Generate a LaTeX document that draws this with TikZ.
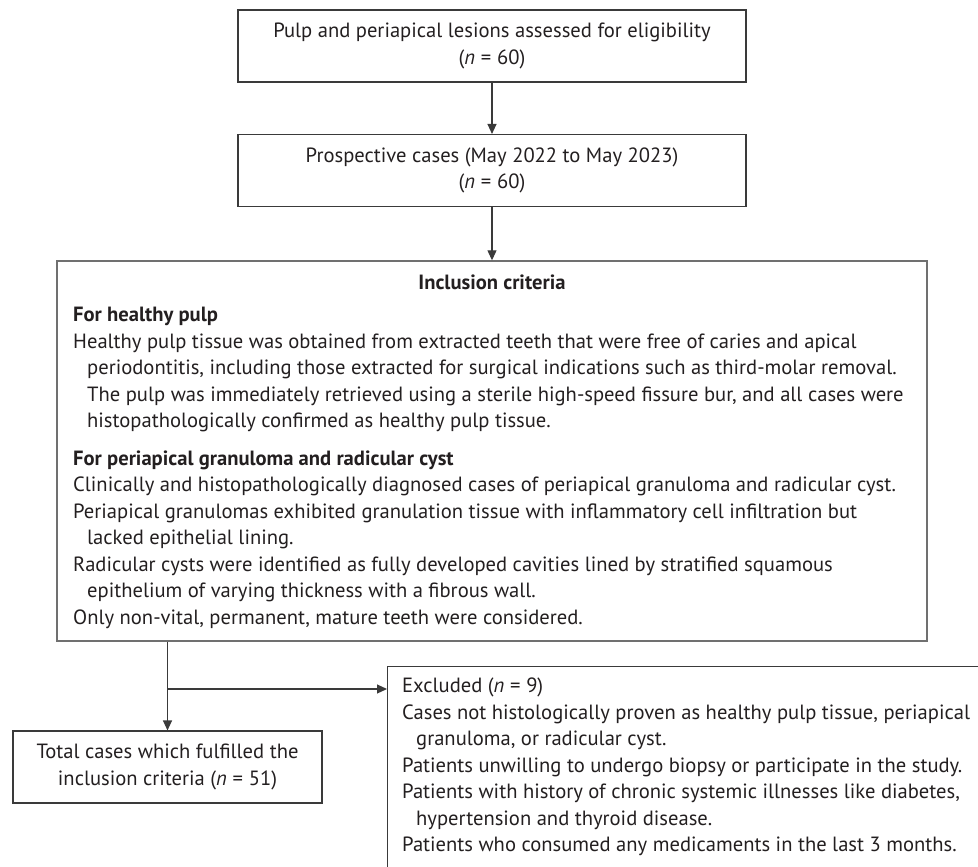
\documentclass[tikz,border=0pt]{standalone}
\usepackage{fontspec}
\setmainfont{PT Sans}
\usetikzlibrary{arrows.meta}
\definecolor{ink}{HTML}{231F20}
\definecolor{frame}{HTML}{3A3A3A}
\definecolor{softframe}{HTML}{707070}
\newcommand{\nn}[1]{(\textit{n}\;=\;#1)}
\newcommand{\hang}{\hspace*{14pt}}
\begin{document}
\begin{tikzpicture}[x=1pt,y=-1pt,
  every node/.style={text=ink, font=\fontsize{20.6}{26.5}\selectfont},
  stepbox/.style={draw=frame, line width=1.1pt, minimum width=508pt, minimum height=72pt, align=center, inner sep=0pt},
  bigbox/.style={draw=softframe, line width=1.4pt, inner sep=0pt},
  plain/.style={inner sep=0pt, align=left},
  flow/.style={draw=frame, line width=1.1pt, -{Triangle[length=10pt,width=9pt]}}]
\useasboundingbox (0,0) rectangle (978,867);
\clip (0,0) rectangle (978,867);

% boxes of the main column
\node[stepbox] (assess) at (492,46) {Pulp and periapical lesions assessed for eligibility\\ \nn{60}};
\node[stepbox] (prosp) at (492,170.5) {Prospective cases (May 2022 to May 2023)\\ \nn{60}};
\node[bigbox, minimum width=870pt, minimum height=380pt] (incl) at (492,451) {};
\node[stepbox, minimum width=309pt] (total) at (167.5,767) {Total cases which fulfilled the\\ inclusion criteria \nn{51}};
\node[bigbox, draw=frame, line width=1.1pt, anchor=north west, minimum width=640pt, minimum height=240pt] (excl) at (387,666) {};

% text of the criteria box
\node[plain, font=\fontsize{20.6}{26.5}\selectfont\bfseries, anchor=base] (incltitle) at (492,289) {Inclusion criteria};
\node[plain, anchor=north west] (incltext) at (73,307) {%
\textbf{For healthy pulp}\\
Healthy pulp tissue was obtained from extracted teeth that were free of caries and apical\\
\hang periodontitis, including those extracted for surgical indications such as third-molar removal.\\
\hang The pulp was immediately retrieved using a sterile high-speed fissure bur, and all cases were\\
\hang histopathologically confirmed as healthy pulp tissue.\\[11pt]
\textbf{For periapical granuloma and radicular cyst}\\
Clinically and histopathologically diagnosed cases of periapical granuloma and radicular cyst.\\
Periapical granulomas exhibited granulation tissue with inflammatory cell infiltration but\\
\hang lacked epithelial lining.\\
Radicular cysts were identified as fully developed cavities lined by stratified squamous\\
\hang epithelium of varying thickness with a fibrous wall.\\
Only non-vital, permanent, mature teeth were considered.};

% text of the exclusion box
\node[plain, anchor=north west] (excltext) at (402,678) {%
Excluded \nn{9}\\
Cases not histologically proven as healthy pulp tissue, periapical\\
\hang granuloma, or radicular cyst.\\
Patients unwilling to undergo biopsy or participate in the study.\\
Patients with history of chronic systemic illnesses like diabetes,\\
\hang hypertension and thyroid disease.\\
Patients who consumed any medicaments in the last 3 months.};

% connectors
\coordinate (split) at (167.5,689);
\draw[flow] (assess) -- (prosp);
\draw[flow] (prosp.south) -- (prosp.south |- incl.north);
\draw[flow] (total.north |- incl.south) -- (total.north);
\draw[flow] (split) -- (excl.west |- split);
\end{tikzpicture}
\end{document}
